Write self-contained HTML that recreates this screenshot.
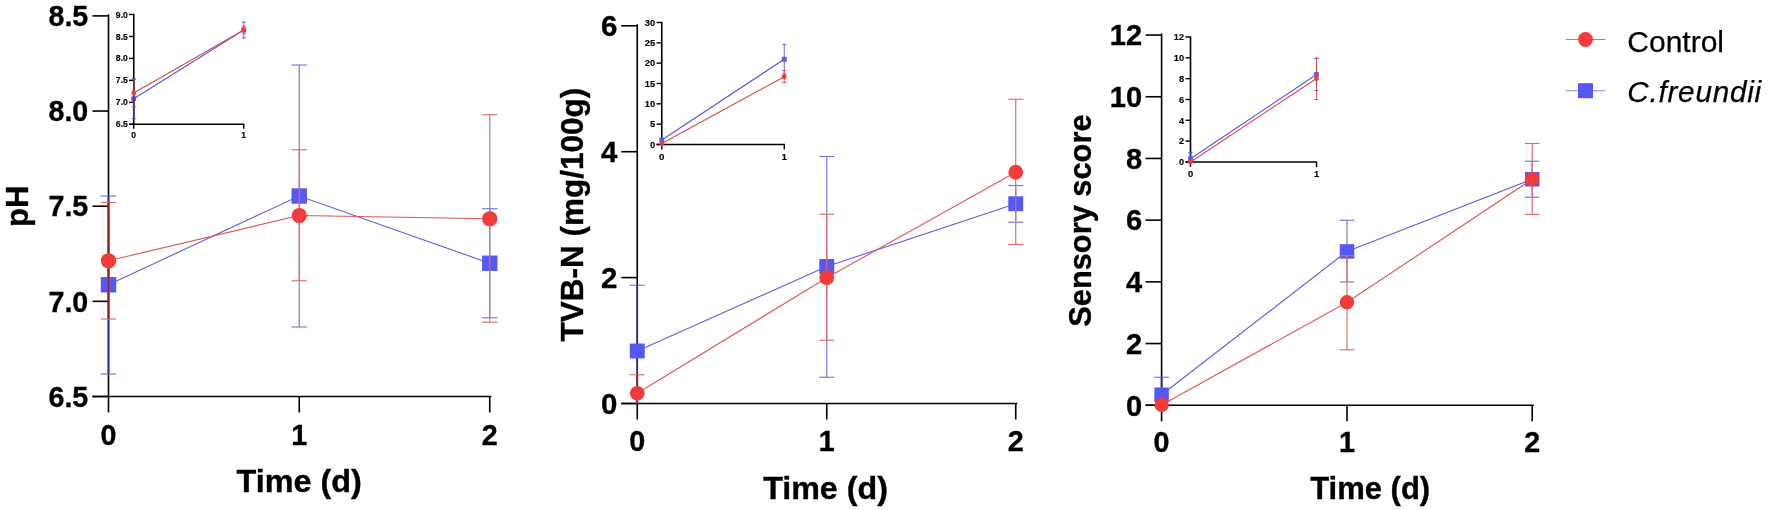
<!DOCTYPE html>
<html><head><meta charset="utf-8"><title>Figure</title>
<style>
html,body{margin:0;padding:0;background:#fff;}
svg{display:block;font-family:"Liberation Sans", sans-serif;filter:blur(0.35px);}
</style></head>
<body>
<svg width="1772" height="510" viewBox="0 0 1772 510">
<rect width="1772" height="510" fill="#fff"/>
<line x1="108.5" y1="14.3" x2="108.5" y2="396.5" stroke="#000" stroke-width="1.6" />
<line x1="92.5" y1="396.5" x2="491.35" y2="396.5" stroke="#000" stroke-width="1.6" />
<line x1="92.5" y1="15.9" x2="108.5" y2="15.9" stroke="#000" stroke-width="1.6" />
<text x="0" y="0" font-size="30" text-anchor="end" font-weight="bold" font-style="normal" stroke="#000" stroke-width="0.35" transform="translate(88.3,26.1) scale(0.955,1)">8.5</text>
<line x1="92.5" y1="111.05" x2="108.5" y2="111.05" stroke="#000" stroke-width="1.6" />
<text x="0" y="0" font-size="30" text-anchor="end" font-weight="bold" font-style="normal" stroke="#000" stroke-width="0.35" transform="translate(88.3,121.25) scale(0.955,1)">8.0</text>
<line x1="92.5" y1="206.2" x2="108.5" y2="206.2" stroke="#000" stroke-width="1.6" />
<text x="0" y="0" font-size="30" text-anchor="end" font-weight="bold" font-style="normal" stroke="#000" stroke-width="0.35" transform="translate(88.3,216.4) scale(0.955,1)">7.5</text>
<line x1="92.5" y1="301.35" x2="108.5" y2="301.35" stroke="#000" stroke-width="1.6" />
<text x="0" y="0" font-size="30" text-anchor="end" font-weight="bold" font-style="normal" stroke="#000" stroke-width="0.35" transform="translate(88.3,311.55) scale(0.955,1)">7.0</text>
<line x1="92.5" y1="396.5" x2="108.5" y2="396.5" stroke="#000" stroke-width="1.6" />
<text x="0" y="0" font-size="30" text-anchor="end" font-weight="bold" font-style="normal" stroke="#000" stroke-width="0.35" transform="translate(88.3,406.7) scale(0.955,1)">6.5</text>
<line x1="108.5" y1="396.5" x2="108.5" y2="412.5" stroke="#000" stroke-width="1.6" />
<text x="0" y="0" font-size="29.6" text-anchor="middle" font-weight="bold" font-style="normal" stroke="#000" stroke-width="0.35" transform="translate(108.5,444.9) scale(0.97,1)">0</text>
<line x1="299.25" y1="396.5" x2="299.25" y2="412.5" stroke="#000" stroke-width="1.6" />
<text x="0" y="0" font-size="29.6" text-anchor="middle" font-weight="bold" font-style="normal" stroke="#000" stroke-width="0.35" transform="translate(299.25,444.9) scale(0.97,1)">1</text>
<line x1="489.75" y1="396.5" x2="489.75" y2="412.5" stroke="#000" stroke-width="1.6" />
<text x="0" y="0" font-size="29.6" text-anchor="middle" font-weight="bold" font-style="normal" stroke="#000" stroke-width="0.35" transform="translate(489.75,444.9) scale(0.97,1)">2</text>
<text x="0" y="0" font-size="31" text-anchor="middle" font-weight="bold" font-style="normal" stroke="#000" stroke-width="0.35" transform="translate(299.2,492.25) scale(1.045,1)">Time (d)</text>
<text x="0" y="0" font-size="31" text-anchor="middle" font-weight="bold" font-style="normal" stroke="#000" stroke-width="0.35" transform="translate(28,206.4) rotate(-90)">pH</text>
<line x1="108.5" y1="196" x2="108.5" y2="374" stroke="#7474E4" stroke-width="1.15" />
<line x1="100.8" y1="196" x2="116.2" y2="196" stroke="#7474E4" stroke-width="1.15" />
<line x1="100.8" y1="374" x2="116.2" y2="374" stroke="#7474E4" stroke-width="1.15" />
<line x1="108.5" y1="196" x2="108.5" y2="374" stroke="#2A2A9E" stroke-width="1.6" />
<line x1="299.25" y1="65" x2="299.25" y2="327" stroke="#7474E4" stroke-width="1.15" />
<line x1="291.55" y1="65" x2="306.95" y2="65" stroke="#7474E4" stroke-width="1.15" />
<line x1="291.55" y1="327" x2="306.95" y2="327" stroke="#7474E4" stroke-width="1.15" />
<line x1="489.75" y1="208.75" x2="489.75" y2="317.75" stroke="#7474E4" stroke-width="1.15" />
<line x1="482.05" y1="208.75" x2="497.45" y2="208.75" stroke="#7474E4" stroke-width="1.15" />
<line x1="482.05" y1="317.75" x2="497.45" y2="317.75" stroke="#7474E4" stroke-width="1.15" />
<polyline points="108.5,284.75 299.25,196 489.75,263.25" fill="none" stroke="#6262DE" stroke-width="1.15"/>
<rect x="100.8" y="277.05" width="15.4" height="15.4" fill="#5558F2"/>
<rect x="291.55" y="188.3" width="15.4" height="15.4" fill="#5558F2"/>
<rect x="482.05" y="255.55" width="15.4" height="15.4" fill="#5558F2"/>
<line x1="108.5" y1="202.5" x2="108.5" y2="319" stroke="#DE6C6C" stroke-width="1.15" />
<line x1="100.8" y1="202.5" x2="116.2" y2="202.5" stroke="#DE6C6C" stroke-width="1.15" />
<line x1="100.8" y1="319" x2="116.2" y2="319" stroke="#DE6C6C" stroke-width="1.15" />
<line x1="108.5" y1="202.5" x2="108.5" y2="319" stroke="#8E2222" stroke-width="1.6" />
<line x1="299.25" y1="149.75" x2="299.25" y2="280.75" stroke="#DE6C6C" stroke-width="1.15" />
<line x1="291.55" y1="149.75" x2="306.95" y2="149.75" stroke="#DE6C6C" stroke-width="1.15" />
<line x1="291.55" y1="280.75" x2="306.95" y2="280.75" stroke="#DE6C6C" stroke-width="1.15" />
<line x1="489.75" y1="114.75" x2="489.75" y2="322.25" stroke="#DE6C6C" stroke-width="1.15" />
<line x1="482.05" y1="114.75" x2="497.45" y2="114.75" stroke="#DE6C6C" stroke-width="1.15" />
<line x1="482.05" y1="322.25" x2="497.45" y2="322.25" stroke="#DE6C6C" stroke-width="1.15" />
<polyline points="108.5,260.75 299.25,215.5 489.75,218.75" fill="none" stroke="#DC5A5A" stroke-width="1.15"/>
<circle cx="108.5" cy="260.75" r="7.623" fill="#F23C3C"/>
<circle cx="299.25" cy="215.5" r="7.623" fill="#F23C3C"/>
<circle cx="489.75" cy="218.75" r="7.623" fill="#F23C3C"/>
<line x1="133.75" y1="13.8" x2="133.75" y2="124.25" stroke="#000" stroke-width="1.6" />
<line x1="129.05" y1="124.25" x2="244.45" y2="124.25" stroke="#000" stroke-width="1.6" />
<line x1="129.05" y1="14.5" x2="133.75" y2="14.5" stroke="#000" stroke-width="1.4" />
<text x="0" y="0" font-size="8.6" text-anchor="end" font-weight="bold" font-style="normal" stroke="#000" stroke-width="0.15" transform="translate(127.8,17.58) scale(1.0,1)">9.0</text>
<line x1="129.05" y1="36.45" x2="133.75" y2="36.45" stroke="#000" stroke-width="1.4" />
<text x="0" y="0" font-size="8.6" text-anchor="end" font-weight="bold" font-style="normal" stroke="#000" stroke-width="0.15" transform="translate(127.8,39.53) scale(1.0,1)">8.5</text>
<line x1="129.05" y1="58.4" x2="133.75" y2="58.4" stroke="#000" stroke-width="1.4" />
<text x="0" y="0" font-size="8.6" text-anchor="end" font-weight="bold" font-style="normal" stroke="#000" stroke-width="0.15" transform="translate(127.8,61.48) scale(1.0,1)">8.0</text>
<line x1="129.05" y1="80.35" x2="133.75" y2="80.35" stroke="#000" stroke-width="1.4" />
<text x="0" y="0" font-size="8.6" text-anchor="end" font-weight="bold" font-style="normal" stroke="#000" stroke-width="0.15" transform="translate(127.8,83.43) scale(1.0,1)">7.5</text>
<line x1="129.05" y1="102.3" x2="133.75" y2="102.3" stroke="#000" stroke-width="1.4" />
<text x="0" y="0" font-size="8.6" text-anchor="end" font-weight="bold" font-style="normal" stroke="#000" stroke-width="0.15" transform="translate(127.8,105.38) scale(1.0,1)">7.0</text>
<line x1="129.05" y1="124.25" x2="133.75" y2="124.25" stroke="#000" stroke-width="1.4" />
<text x="0" y="0" font-size="8.6" text-anchor="end" font-weight="bold" font-style="normal" stroke="#000" stroke-width="0.15" transform="translate(127.8,127.33) scale(1.0,1)">6.5</text>
<line x1="133.75" y1="124.25" x2="133.75" y2="128.85" stroke="#000" stroke-width="1.4" />
<text x="0" y="0" font-size="8.6" text-anchor="middle" font-weight="bold" font-style="normal" stroke="#000" stroke-width="0.15" transform="translate(133.75,138.3) scale(1.0,1)">0</text>
<line x1="243.75" y1="124.25" x2="243.75" y2="128.85" stroke="#000" stroke-width="1.4" />
<text x="0" y="0" font-size="8.6" text-anchor="middle" font-weight="bold" font-style="normal" stroke="#000" stroke-width="0.15" transform="translate(243.75,138.3) scale(1.0,1)">1</text>
<line x1="133.75" y1="78.75" x2="133.75" y2="118.75" stroke="#5656DC" stroke-width="0.9" />
<line x1="131.65" y1="78.75" x2="135.85" y2="78.75" stroke="#5656DC" stroke-width="0.9" />
<line x1="131.65" y1="118.75" x2="135.85" y2="118.75" stroke="#5656DC" stroke-width="0.9" />
<line x1="133.75" y1="78.75" x2="133.75" y2="118.75" stroke="#2A2A9E" stroke-width="1.4" />
<line x1="243.75" y1="22" x2="243.75" y2="38" stroke="#5656DC" stroke-width="0.9" />
<line x1="241.65" y1="22" x2="245.85" y2="22" stroke="#5656DC" stroke-width="0.9" />
<line x1="241.65" y1="38" x2="245.85" y2="38" stroke="#5656DC" stroke-width="0.9" />
<polyline points="133.75,98.75 243.75,30" fill="none" stroke="#5656DC" stroke-width="1.1"/>
<rect x="131.35" y="96.35" width="4.8" height="4.8" fill="#5558F2"/>
<rect x="241.35" y="27.6" width="4.8" height="4.8" fill="#5558F2"/>
<line x1="133.75" y1="79.5" x2="133.75" y2="106.75" stroke="#D84848" stroke-width="0.9" />
<line x1="131.65" y1="79.5" x2="135.85" y2="79.5" stroke="#D84848" stroke-width="0.9" />
<line x1="131.65" y1="106.75" x2="135.85" y2="106.75" stroke="#D84848" stroke-width="0.9" />
<line x1="133.75" y1="79.5" x2="133.75" y2="106.75" stroke="#8E2222" stroke-width="1.4" />
<line x1="243.75" y1="26.25" x2="243.75" y2="33.75" stroke="#D84848" stroke-width="0.9" />
<line x1="241.65" y1="26.25" x2="245.85" y2="26.25" stroke="#D84848" stroke-width="0.9" />
<line x1="241.65" y1="33.75" x2="245.85" y2="33.75" stroke="#D84848" stroke-width="0.9" />
<polyline points="133.75,93 243.75,30" fill="none" stroke="#D84848" stroke-width="1.1"/>
<circle cx="133.75" cy="93" r="2.376" fill="#F23C3C"/>
<circle cx="243.75" cy="30" r="2.376" fill="#F23C3C"/>
<line x1="637.25" y1="24.2" x2="637.25" y2="403.5" stroke="#000" stroke-width="1.6" />
<line x1="621.25" y1="403.5" x2="1017.3499999999999" y2="403.5" stroke="#000" stroke-width="1.6" />
<line x1="621.25" y1="25.8" x2="637.25" y2="25.8" stroke="#000" stroke-width="1.6" />
<text x="0" y="0" font-size="30" text-anchor="end" font-weight="bold" font-style="normal" stroke="#000" stroke-width="0.35" transform="translate(617.3,36.1) scale(0.98,1)">6</text>
<line x1="621.25" y1="151.7" x2="637.25" y2="151.7" stroke="#000" stroke-width="1.6" />
<text x="0" y="0" font-size="30" text-anchor="end" font-weight="bold" font-style="normal" stroke="#000" stroke-width="0.35" transform="translate(617.3,162.0) scale(0.98,1)">4</text>
<line x1="621.25" y1="277.6" x2="637.25" y2="277.6" stroke="#000" stroke-width="1.6" />
<text x="0" y="0" font-size="30" text-anchor="end" font-weight="bold" font-style="normal" stroke="#000" stroke-width="0.35" transform="translate(617.3,287.9) scale(0.98,1)">2</text>
<line x1="621.25" y1="403.5" x2="637.25" y2="403.5" stroke="#000" stroke-width="1.6" />
<text x="0" y="0" font-size="30" text-anchor="end" font-weight="bold" font-style="normal" stroke="#000" stroke-width="0.35" transform="translate(617.3,413.8) scale(0.98,1)">0</text>
<line x1="637.25" y1="403.5" x2="637.25" y2="419.5" stroke="#000" stroke-width="1.6" />
<text x="0" y="0" font-size="29.6" text-anchor="middle" font-weight="bold" font-style="normal" stroke="#000" stroke-width="0.35" transform="translate(637.25,451.2) scale(0.97,1)">0</text>
<line x1="826.75" y1="403.5" x2="826.75" y2="419.5" stroke="#000" stroke-width="1.6" />
<text x="0" y="0" font-size="29.6" text-anchor="middle" font-weight="bold" font-style="normal" stroke="#000" stroke-width="0.35" transform="translate(826.75,451.2) scale(0.97,1)">1</text>
<line x1="1015.75" y1="403.5" x2="1015.75" y2="419.5" stroke="#000" stroke-width="1.6" />
<text x="0" y="0" font-size="29.6" text-anchor="middle" font-weight="bold" font-style="normal" stroke="#000" stroke-width="0.35" transform="translate(1015.75,451.2) scale(0.97,1)">2</text>
<text x="0" y="0" font-size="31" text-anchor="middle" font-weight="bold" font-style="normal" stroke="#000" stroke-width="0.35" transform="translate(825.5,498.7) scale(1.04,1)">Time (d)</text>
<text x="0" y="0" font-size="31.5" text-anchor="middle" font-weight="bold" font-style="normal" stroke="#000" stroke-width="0.35" transform="translate(582.5,214.6) rotate(-90)">TVB-N (mg/100g)</text>
<line x1="637.25" y1="285.25" x2="637.25" y2="403.5" stroke="#7474E4" stroke-width="1.15" />
<line x1="629.75" y1="285.25" x2="644.75" y2="285.25" stroke="#7474E4" stroke-width="1.15" />
<line x1="637.25" y1="285.25" x2="637.25" y2="403.5" stroke="#2A2A9E" stroke-width="1.6" />
<line x1="826.75" y1="156.5" x2="826.75" y2="377.25" stroke="#7474E4" stroke-width="1.15" />
<line x1="819.25" y1="156.5" x2="834.25" y2="156.5" stroke="#7474E4" stroke-width="1.15" />
<line x1="819.25" y1="377.25" x2="834.25" y2="377.25" stroke="#7474E4" stroke-width="1.15" />
<line x1="1015.75" y1="185.5" x2="1015.75" y2="222.25" stroke="#7474E4" stroke-width="1.15" />
<line x1="1008.25" y1="185.5" x2="1023.25" y2="185.5" stroke="#7474E4" stroke-width="1.15" />
<line x1="1008.25" y1="222.25" x2="1023.25" y2="222.25" stroke="#7474E4" stroke-width="1.15" />
<polyline points="637.25,351 826.75,266.5 1015.75,203.75" fill="none" stroke="#6262DE" stroke-width="1.15"/>
<rect x="629.8" y="343.55" width="14.9" height="14.9" fill="#5558F2"/>
<rect x="819.3" y="259.05" width="14.9" height="14.9" fill="#5558F2"/>
<rect x="1008.3" y="196.3" width="14.9" height="14.9" fill="#5558F2"/>
<line x1="637.25" y1="374.75" x2="637.25" y2="403.5" stroke="#DE6C6C" stroke-width="1.15" />
<line x1="629.75" y1="374.75" x2="644.75" y2="374.75" stroke="#DE6C6C" stroke-width="1.15" />
<line x1="637.25" y1="374.75" x2="637.25" y2="403.5" stroke="#8E2222" stroke-width="1.6" />
<line x1="826.75" y1="214.25" x2="826.75" y2="340.25" stroke="#DE6C6C" stroke-width="1.15" />
<line x1="819.25" y1="214.25" x2="834.25" y2="214.25" stroke="#DE6C6C" stroke-width="1.15" />
<line x1="819.25" y1="340.25" x2="834.25" y2="340.25" stroke="#DE6C6C" stroke-width="1.15" />
<line x1="1015.75" y1="99.25" x2="1015.75" y2="244.5" stroke="#DE6C6C" stroke-width="1.15" />
<line x1="1008.25" y1="99.25" x2="1023.25" y2="99.25" stroke="#DE6C6C" stroke-width="1.15" />
<line x1="1008.25" y1="244.5" x2="1023.25" y2="244.5" stroke="#DE6C6C" stroke-width="1.15" />
<polyline points="637.25,393.3 826.75,277.75 1015.75,172.25" fill="none" stroke="#DC5A5A" stroke-width="1.15"/>
<circle cx="637.25" cy="393.3" r="7.3755" fill="#F23C3C"/>
<circle cx="826.75" cy="277.75" r="7.3755" fill="#F23C3C"/>
<circle cx="1015.75" cy="172.25" r="7.3755" fill="#F23C3C"/>
<line x1="661.75" y1="21.8" x2="661.75" y2="144.5" stroke="#000" stroke-width="1.6" />
<line x1="656.55" y1="144.5" x2="784.95" y2="144.5" stroke="#000" stroke-width="1.6" />
<line x1="656.55" y1="22.5" x2="661.75" y2="22.5" stroke="#000" stroke-width="1.4" />
<text x="0" y="0" font-size="9.3" text-anchor="end" font-weight="bold" font-style="normal" stroke="#000" stroke-width="0.15" transform="translate(655.1,25.83) scale(1.0,1)">30</text>
<line x1="656.55" y1="42.83" x2="661.75" y2="42.83" stroke="#000" stroke-width="1.4" />
<text x="0" y="0" font-size="9.3" text-anchor="end" font-weight="bold" font-style="normal" stroke="#000" stroke-width="0.15" transform="translate(655.1,46.16) scale(1.0,1)">25</text>
<line x1="656.55" y1="63.16" x2="661.75" y2="63.16" stroke="#000" stroke-width="1.4" />
<text x="0" y="0" font-size="9.3" text-anchor="end" font-weight="bold" font-style="normal" stroke="#000" stroke-width="0.15" transform="translate(655.1,66.49) scale(1.0,1)">20</text>
<line x1="656.55" y1="83.49" x2="661.75" y2="83.49" stroke="#000" stroke-width="1.4" />
<text x="0" y="0" font-size="9.3" text-anchor="end" font-weight="bold" font-style="normal" stroke="#000" stroke-width="0.15" transform="translate(655.1,86.82) scale(1.0,1)">15</text>
<line x1="656.55" y1="103.82" x2="661.75" y2="103.82" stroke="#000" stroke-width="1.4" />
<text x="0" y="0" font-size="9.3" text-anchor="end" font-weight="bold" font-style="normal" stroke="#000" stroke-width="0.15" transform="translate(655.1,107.15) scale(1.0,1)">10</text>
<line x1="656.55" y1="124.15" x2="661.75" y2="124.15" stroke="#000" stroke-width="1.4" />
<text x="0" y="0" font-size="9.3" text-anchor="end" font-weight="bold" font-style="normal" stroke="#000" stroke-width="0.15" transform="translate(655.1,127.48) scale(1.0,1)">5</text>
<line x1="656.55" y1="144.48" x2="661.75" y2="144.48" stroke="#000" stroke-width="1.4" />
<text x="0" y="0" font-size="9.3" text-anchor="end" font-weight="bold" font-style="normal" stroke="#000" stroke-width="0.15" transform="translate(655.1,147.81) scale(1.0,1)">0</text>
<line x1="661.75" y1="144.5" x2="661.75" y2="149.5" stroke="#000" stroke-width="1.4" />
<text x="0" y="0" font-size="9.8" text-anchor="middle" font-weight="bold" font-style="normal" stroke="#000" stroke-width="0.15" transform="translate(661.75,160.0) scale(1.0,1)">0</text>
<line x1="784.25" y1="144.5" x2="784.25" y2="149.5" stroke="#000" stroke-width="1.4" />
<text x="0" y="0" font-size="9.8" text-anchor="middle" font-weight="bold" font-style="normal" stroke="#000" stroke-width="0.15" transform="translate(784.25,160.0) scale(1.0,1)">1</text>
<line x1="784.25" y1="44.25" x2="784.25" y2="74" stroke="#5656DC" stroke-width="0.9" />
<line x1="782.15" y1="44.25" x2="786.35" y2="44.25" stroke="#5656DC" stroke-width="0.9" />
<line x1="782.15" y1="74" x2="786.35" y2="74" stroke="#5656DC" stroke-width="0.9" />
<polyline points="661.75,140 784.25,59.25" fill="none" stroke="#5656DC" stroke-width="1.1"/>
<rect x="659.35" y="137.6" width="4.8" height="4.8" fill="#5558F2"/>
<rect x="781.85" y="56.85" width="4.8" height="4.8" fill="#5558F2"/>
<line x1="784.25" y1="70.5" x2="784.25" y2="82.5" stroke="#D84848" stroke-width="0.9" />
<line x1="782.15" y1="70.5" x2="786.35" y2="70.5" stroke="#D84848" stroke-width="0.9" />
<line x1="782.15" y1="82.5" x2="786.35" y2="82.5" stroke="#D84848" stroke-width="0.9" />
<polyline points="661.75,143.5 784.25,76.75" fill="none" stroke="#D84848" stroke-width="1.1"/>
<circle cx="661.75" cy="143.5" r="2.376" fill="#F23C3C"/>
<circle cx="784.25" cy="76.75" r="2.376" fill="#F23C3C"/>
<line x1="1161.6" y1="33.45" x2="1161.6" y2="405.25" stroke="#000" stroke-width="1.6" />
<line x1="1145.6" y1="405.25" x2="1533.8" y2="405.25" stroke="#000" stroke-width="1.6" />
<line x1="1145.6" y1="35.05" x2="1161.6" y2="35.05" stroke="#000" stroke-width="1.6" />
<text x="0" y="0" font-size="30" text-anchor="end" font-weight="bold" font-style="normal" stroke="#000" stroke-width="0.35" transform="translate(1142.2,45.35) scale(0.97,1)">12</text>
<line x1="1145.6" y1="96.75" x2="1161.6" y2="96.75" stroke="#000" stroke-width="1.6" />
<text x="0" y="0" font-size="30" text-anchor="end" font-weight="bold" font-style="normal" stroke="#000" stroke-width="0.35" transform="translate(1142.2,107.05) scale(0.97,1)">10</text>
<line x1="1145.6" y1="158.45" x2="1161.6" y2="158.45" stroke="#000" stroke-width="1.6" />
<text x="0" y="0" font-size="30" text-anchor="end" font-weight="bold" font-style="normal" stroke="#000" stroke-width="0.35" transform="translate(1142.2,168.75) scale(0.97,1)">8</text>
<line x1="1145.6" y1="220.15" x2="1161.6" y2="220.15" stroke="#000" stroke-width="1.6" />
<text x="0" y="0" font-size="30" text-anchor="end" font-weight="bold" font-style="normal" stroke="#000" stroke-width="0.35" transform="translate(1142.2,230.45) scale(0.97,1)">6</text>
<line x1="1145.6" y1="281.85" x2="1161.6" y2="281.85" stroke="#000" stroke-width="1.6" />
<text x="0" y="0" font-size="30" text-anchor="end" font-weight="bold" font-style="normal" stroke="#000" stroke-width="0.35" transform="translate(1142.2,292.15) scale(0.97,1)">4</text>
<line x1="1145.6" y1="343.55" x2="1161.6" y2="343.55" stroke="#000" stroke-width="1.6" />
<text x="0" y="0" font-size="30" text-anchor="end" font-weight="bold" font-style="normal" stroke="#000" stroke-width="0.35" transform="translate(1142.2,353.85) scale(0.97,1)">2</text>
<line x1="1145.6" y1="405.25" x2="1161.6" y2="405.25" stroke="#000" stroke-width="1.6" />
<text x="0" y="0" font-size="30" text-anchor="end" font-weight="bold" font-style="normal" stroke="#000" stroke-width="0.35" transform="translate(1142.2,415.55) scale(0.97,1)">0</text>
<line x1="1161.6" y1="405.25" x2="1161.6" y2="421.25" stroke="#000" stroke-width="1.6" />
<text x="0" y="0" font-size="29.6" text-anchor="middle" font-weight="bold" font-style="normal" stroke="#000" stroke-width="0.35" transform="translate(1161.6,451.9) scale(0.97,1)">0</text>
<line x1="1347.0" y1="405.25" x2="1347.0" y2="421.25" stroke="#000" stroke-width="1.6" />
<text x="0" y="0" font-size="29.6" text-anchor="middle" font-weight="bold" font-style="normal" stroke="#000" stroke-width="0.35" transform="translate(1347.0,451.9) scale(0.97,1)">1</text>
<line x1="1532.2" y1="405.25" x2="1532.2" y2="421.25" stroke="#000" stroke-width="1.6" />
<text x="0" y="0" font-size="29.6" text-anchor="middle" font-weight="bold" font-style="normal" stroke="#000" stroke-width="0.35" transform="translate(1532.2,451.9) scale(0.97,1)">2</text>
<text x="0" y="0" font-size="31" text-anchor="middle" font-weight="bold" font-style="normal" stroke="#000" stroke-width="0.35" transform="translate(1370.2,498.7) scale(1.0,1)">Time (d)</text>
<text x="0" y="0" font-size="30.8" text-anchor="middle" font-weight="bold" font-style="normal" stroke="#000" stroke-width="0.35" transform="translate(1090.8,220.6) rotate(-90)">Sensory score</text>
<line x1="1161.6" y1="377.25" x2="1161.6" y2="405.25" stroke="#7474E4" stroke-width="1.15" />
<line x1="1154.3" y1="377.25" x2="1168.8999999999999" y2="377.25" stroke="#7474E4" stroke-width="1.15" />
<line x1="1161.6" y1="377.25" x2="1161.6" y2="405.25" stroke="#2A2A9E" stroke-width="1.6" />
<line x1="1347.0" y1="220.25" x2="1347.0" y2="282" stroke="#7474E4" stroke-width="1.15" />
<line x1="1339.7" y1="220.25" x2="1354.3" y2="220.25" stroke="#7474E4" stroke-width="1.15" />
<line x1="1339.7" y1="282" x2="1354.3" y2="282" stroke="#7474E4" stroke-width="1.15" />
<line x1="1532.2" y1="161.25" x2="1532.2" y2="197.25" stroke="#7474E4" stroke-width="1.15" />
<line x1="1524.9" y1="161.25" x2="1539.5" y2="161.25" stroke="#7474E4" stroke-width="1.15" />
<line x1="1524.9" y1="197.25" x2="1539.5" y2="197.25" stroke="#7474E4" stroke-width="1.15" />
<polyline points="1161.6,394.75 1347.0,251.4 1532.2,179.25" fill="none" stroke="#6262DE" stroke-width="1.15"/>
<rect x="1154.35" y="387.5" width="14.5" height="14.5" fill="#5558F2"/>
<rect x="1339.75" y="244.15" width="14.5" height="14.5" fill="#5558F2"/>
<rect x="1524.95" y="172.0" width="14.5" height="14.5" fill="#5558F2"/>
<line x1="1347.0" y1="255.75" x2="1347.0" y2="349.75" stroke="#DE6C6C" stroke-width="1.15" />
<line x1="1339.7" y1="255.75" x2="1354.3" y2="255.75" stroke="#DE6C6C" stroke-width="1.15" />
<line x1="1339.7" y1="349.75" x2="1354.3" y2="349.75" stroke="#DE6C6C" stroke-width="1.15" />
<line x1="1532.2" y1="143.5" x2="1532.2" y2="214.5" stroke="#DE6C6C" stroke-width="1.15" />
<line x1="1524.9" y1="143.5" x2="1539.5" y2="143.5" stroke="#DE6C6C" stroke-width="1.15" />
<line x1="1524.9" y1="214.5" x2="1539.5" y2="214.5" stroke="#DE6C6C" stroke-width="1.15" />
<polyline points="1161.6,405 1347.0,302.3 1532.2,179.25" fill="none" stroke="#DC5A5A" stroke-width="1.15"/>
<circle cx="1161.6" cy="405" r="7.1775" fill="#F23C3C"/>
<circle cx="1347.0" cy="302.3" r="7.1775" fill="#F23C3C"/>
<circle cx="1532.2" cy="179.25" r="7.1775" fill="#F23C3C"/>
<line x1="1190.5" y1="36.3" x2="1190.5" y2="162" stroke="#000" stroke-width="1.6" />
<line x1="1185.5" y1="162" x2="1317.2" y2="162" stroke="#000" stroke-width="1.6" />
<line x1="1185.5" y1="37.0" x2="1190.5" y2="37.0" stroke="#000" stroke-width="1.4" />
<text x="0" y="0" font-size="9.2" text-anchor="end" font-weight="bold" font-style="normal" stroke="#000" stroke-width="0.15" transform="translate(1184.1,40.29) scale(1.0,1)">12</text>
<line x1="1185.5" y1="57.83" x2="1190.5" y2="57.83" stroke="#000" stroke-width="1.4" />
<text x="0" y="0" font-size="9.2" text-anchor="end" font-weight="bold" font-style="normal" stroke="#000" stroke-width="0.15" transform="translate(1184.1,61.12) scale(1.0,1)">10</text>
<line x1="1185.5" y1="78.66" x2="1190.5" y2="78.66" stroke="#000" stroke-width="1.4" />
<text x="0" y="0" font-size="9.2" text-anchor="end" font-weight="bold" font-style="normal" stroke="#000" stroke-width="0.15" transform="translate(1184.1,81.95) scale(1.0,1)">8</text>
<line x1="1185.5" y1="99.49" x2="1190.5" y2="99.49" stroke="#000" stroke-width="1.4" />
<text x="0" y="0" font-size="9.2" text-anchor="end" font-weight="bold" font-style="normal" stroke="#000" stroke-width="0.15" transform="translate(1184.1,102.78) scale(1.0,1)">6</text>
<line x1="1185.5" y1="120.32" x2="1190.5" y2="120.32" stroke="#000" stroke-width="1.4" />
<text x="0" y="0" font-size="9.2" text-anchor="end" font-weight="bold" font-style="normal" stroke="#000" stroke-width="0.15" transform="translate(1184.1,123.61) scale(1.0,1)">4</text>
<line x1="1185.5" y1="141.15" x2="1190.5" y2="141.15" stroke="#000" stroke-width="1.4" />
<text x="0" y="0" font-size="9.2" text-anchor="end" font-weight="bold" font-style="normal" stroke="#000" stroke-width="0.15" transform="translate(1184.1,144.44) scale(1.0,1)">2</text>
<line x1="1185.5" y1="161.98" x2="1190.5" y2="161.98" stroke="#000" stroke-width="1.4" />
<text x="0" y="0" font-size="9.2" text-anchor="end" font-weight="bold" font-style="normal" stroke="#000" stroke-width="0.15" transform="translate(1184.1,165.27) scale(1.0,1)">0</text>
<line x1="1190.5" y1="162" x2="1190.5" y2="167" stroke="#000" stroke-width="1.4" />
<text x="0" y="0" font-size="9.4" text-anchor="middle" font-weight="bold" font-style="normal" stroke="#000" stroke-width="0.15" transform="translate(1190.5,177.3) scale(1.0,1)">0</text>
<line x1="1316.5" y1="162" x2="1316.5" y2="167" stroke="#000" stroke-width="1.4" />
<text x="0" y="0" font-size="9.4" text-anchor="middle" font-weight="bold" font-style="normal" stroke="#000" stroke-width="0.15" transform="translate(1316.5,177.3) scale(1.0,1)">1</text>
<line x1="1190.5" y1="152.5" x2="1190.5" y2="162" stroke="#5656DC" stroke-width="0.9" />
<line x1="1188.4" y1="152.5" x2="1192.6" y2="152.5" stroke="#5656DC" stroke-width="0.9" />
<line x1="1190.5" y1="152.5" x2="1190.5" y2="162" stroke="#2A2A9E" stroke-width="1.4" />
<line x1="1316.5" y1="58.5" x2="1316.5" y2="90.5" stroke="#5656DC" stroke-width="0.9" />
<line x1="1314.4" y1="58.5" x2="1318.6" y2="58.5" stroke="#5656DC" stroke-width="0.9" />
<line x1="1314.4" y1="90.5" x2="1318.6" y2="90.5" stroke="#5656DC" stroke-width="0.9" />
<polyline points="1190.5,158.75 1316.5,74.5" fill="none" stroke="#5656DC" stroke-width="1.1"/>
<rect x="1188.1" y="156.35" width="4.8" height="4.8" fill="#5558F2"/>
<rect x="1314.1" y="72.1" width="4.8" height="4.8" fill="#5558F2"/>
<line x1="1316.5" y1="58" x2="1316.5" y2="99.5" stroke="#D84848" stroke-width="0.9" />
<line x1="1314.4" y1="58" x2="1318.6" y2="58" stroke="#D84848" stroke-width="0.9" />
<line x1="1314.4" y1="99.5" x2="1318.6" y2="99.5" stroke="#D84848" stroke-width="0.9" />
<polyline points="1190.5,162 1316.5,78.5" fill="none" stroke="#D84848" stroke-width="1.1"/>
<circle cx="1190.5" cy="162" r="2.376" fill="#F23C3C"/>
<circle cx="1316.5" cy="78.5" r="2.376" fill="#F23C3C"/>
<line x1="1565.75" y1="39.5" x2="1605.25" y2="39.5" stroke="#DE6C6C" stroke-width="1.1" />
<circle cx="1585.5" cy="39.5" r="7.5" fill="#F23C3C"/>
<text x="1627.3" y="51.5" font-size="30" text-anchor="start" font-weight="normal" font-style="normal" stroke="#000" stroke-width="0.25" >Control</text>
<line x1="1565.75" y1="90.75" x2="1605.25" y2="90.75" stroke="#8888EA" stroke-width="1.1" />
<rect x="1578.0" y="83.2" width="15" height="15" fill="#5558F2"/>
<text x="1627.3" y="102.2" font-size="29.7" text-anchor="start" font-weight="normal" font-style="italic" stroke="#000" stroke-width="0.25" letter-spacing="0.75">C.freundii</text>
</svg>
</body></html>
